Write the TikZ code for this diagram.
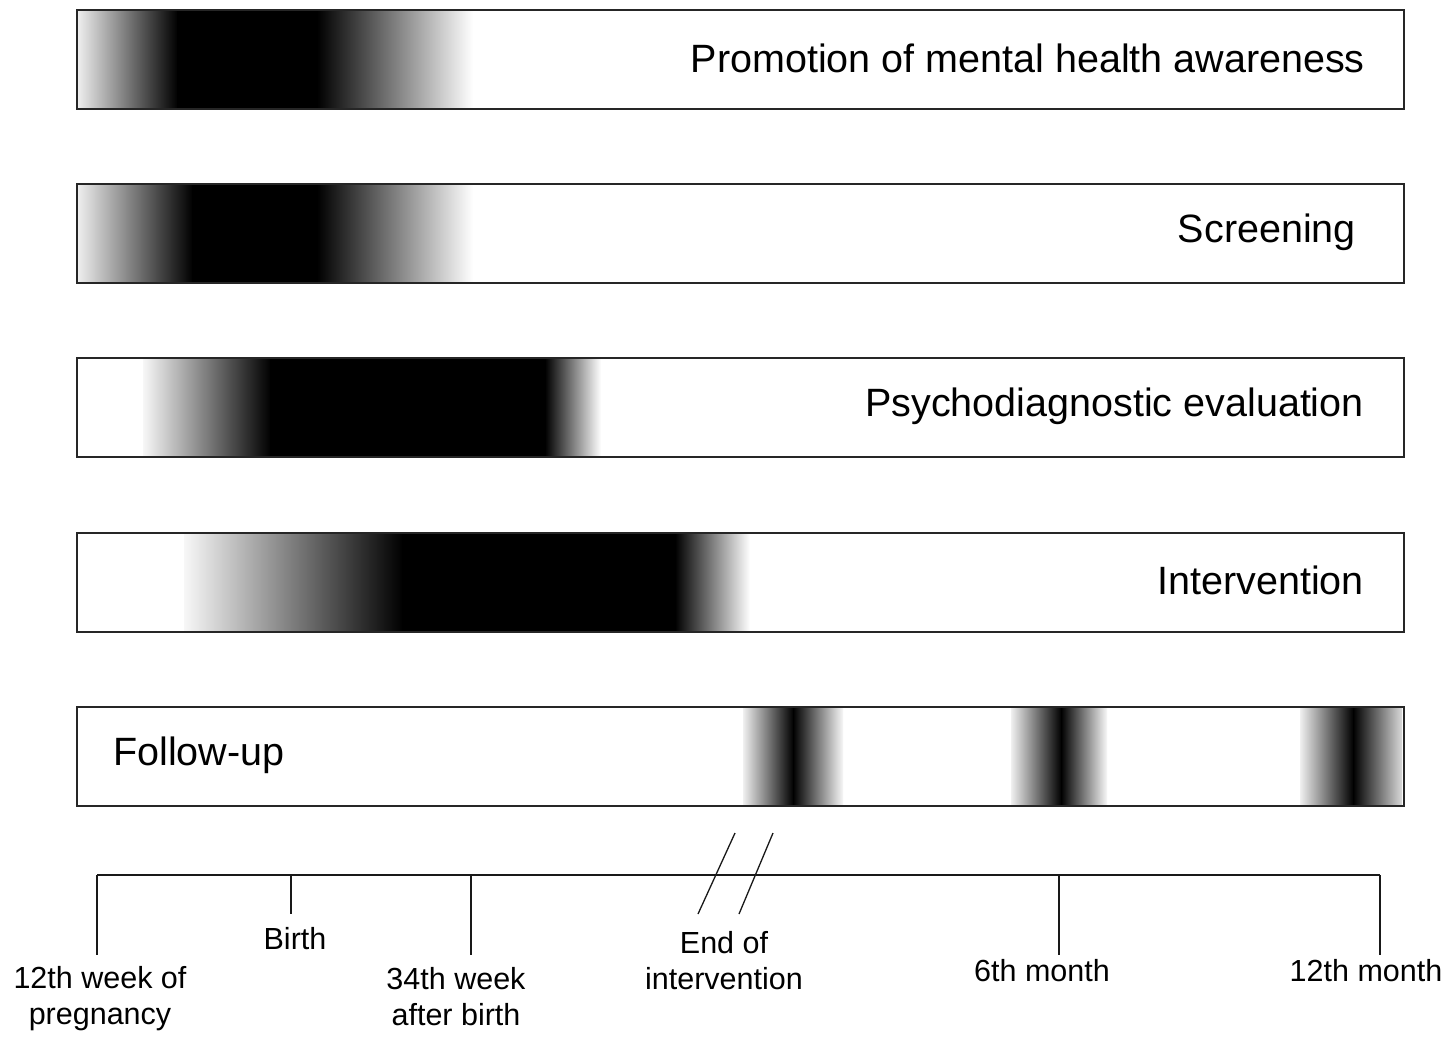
\documentclass[tikz,border=0pt]{standalone}
\usepackage{fontspec}
\setmainfont{Liberation Sans}
\begin{document}
\begin{tikzpicture}[x=1pt,y=-1pt,
  barbox/.style={draw=black!85, line width=1.6pt, minimum width=1327pt, minimum height=99pt, anchor=north west, inner sep=0pt},
  bartext/.style={font=\fontsize{39.5}{46}\selectfont, inner sep=0pt},
  axislbl/.style={font=\fontsize{30.5}{36}\selectfont, align=center, inner sep=0pt},
  axisline/.style={line width=1.6pt, black!90},
  tickline/.style={line width=1.3pt, black!90},
  solidblack/.style={left color=black, right color=black}]
\useasboundingbox (0,0) rectangle (1450,1046);
\fill[white] (0,0) rectangle (1450,1046);

% ---- bar 1 shading
\shade[left color=gray!12, right color=black] (77,9.6) rectangle (178,107.4);
\shade[solidblack] (177,9.6) rectangle (318,107.4);
\shade[left color=black, right color=white] (317,9.6) rectangle (473,107.4);
% ---- bar 2 shading
\shade[left color=gray!12, right color=black] (77,183.6) rectangle (193,281.4);
\shade[solidblack] (192,183.6) rectangle (318,281.4);
\shade[left color=black, right color=white] (317,183.6) rectangle (473,281.4);
% ---- bar 3 shading
\shade[left color=gray!6, right color=black] (143,357.6) rectangle (271,455.4);
\shade[solidblack] (270,357.6) rectangle (546,455.4);
\shade[left color=black, right color=white] (545,357.6) rectangle (601,455.4);
% ---- bar 4 shading
\shade[left color=gray!6, right color=black] (184,532.6) rectangle (403,630.4);
\shade[solidblack] (402,532.6) rectangle (676,630.4);
\shade[left color=black, right color=white] (675,532.6) rectangle (750,630.4);
% ---- bar 5 shading (follow-up bands)
\shade[left color=gray!12, right color=black] (743,706.6) rectangle (793.5,804.4);
\shade[left color=black, right color=gray!6] (793,706.6) rectangle (843,804.4);
\shade[left color=gray!12, right color=black] (1011,706.6) rectangle (1061.5,804.4);
\shade[left color=black, right color=gray!6] (1061,706.6) rectangle (1107,804.4);
\shade[left color=gray!12, right color=black] (1300,706.6) rectangle (1353.5,804.4);
\shade[left color=black, right color=gray!30] (1353,706.6) rectangle (1402,804.4);

% ---- bar outlines
\node[barbox] (bar1) at (76,9) {};
\node[barbox] (bar2) at (76,183) {};
\node[barbox] (bar3) at (76,357) {};
\node[barbox] (bar4) at (76,532) {};
\node[barbox] (bar5) at (76,706) {};

% ---- bar labels
\node[bartext, anchor=east] (t1) at (1365,58) {Promotion of mental health awareness};
\node[bartext, anchor=east] (t2) at (1356,232) {Screening};
\node[bartext, anchor=east] (t3) at (1364,406) {Psychodiagnostic evaluation};
\node[bartext, anchor=east] (t4) at (1364,580) {Intervention};
\node[bartext, anchor=west] (t5) at (113,755) {Follow-up};

% ---- time axis
\coordinate (a0) at (97,875);
\coordinate (aB) at (291,875);
\coordinate (a34) at (471,875);
\coordinate (a6) at (1059,875);
\coordinate (a12) at (1380,875);
\coordinate (a0b) at (97,955);
\coordinate (aBb) at (291,914);
\coordinate (a34b) at (471,955);
\coordinate (a6b) at (1059,955);
\coordinate (a12b) at (1380,955);
\draw[axisline] (a0) -- (a12);
\draw[tickline] (a0) -- (a0b);
\draw[tickline] (aB) -- (aBb);
\draw[tickline] (a34) -- (a34b);
\draw[tickline] (a6) -- (a6b);
\draw[tickline] (a12) -- (a12b);
% break marks
\coordinate (s1t) at (735,833);
\coordinate (s1b) at (698,914);
\coordinate (s2t) at (773,833);
\coordinate (s2b) at (739,914);
\draw[tickline] (s1t) -- (s1b);
\draw[tickline] (s2t) -- (s2b);

% ---- axis labels
\node[axislbl] (l0) at (100,999) {12th week of\\pregnancy};
\node[axislbl] (lB) at (295,939) {Birth};
\node[axislbl] (l34) at (456,997) {34th week\\after birth};
\node[axislbl] (lE) at (724,961) {End of\\intervention};
\node[axislbl] (l6) at (1042,971) {6th month};
\node[axislbl] (l12) at (1366,971) {12th month};
\end{tikzpicture}
\end{document}
